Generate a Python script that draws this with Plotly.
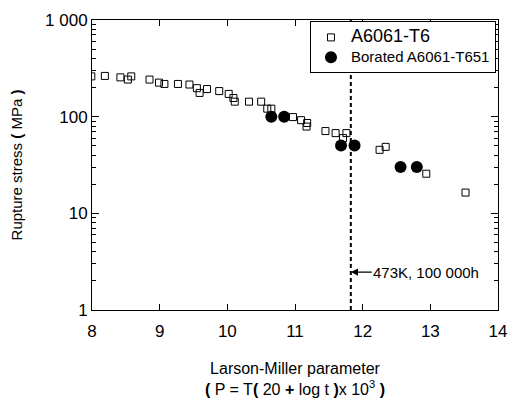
import math
import plotly.graph_objects as go

# A6061-T6 (open squares)
t6_P = [7.99, 8.19, 8.42, 8.53, 8.58, 8.85, 8.99, 9.07, 9.27, 9.44, 9.55, 9.59, 9.70, 9.88,
        10.02, 10.09, 10.11, 10.32, 10.50, 10.59, 10.65, 10.97, 11.09, 11.18, 11.17,
        11.45, 11.60, 11.71, 11.76, 12.25, 12.34, 12.94, 13.52]
t6_S = [261, 264, 255, 242, 261, 242, 225, 218, 218, 215, 197, 176, 193, 184,
        172, 156, 143, 143, 143, 121, 121, 99, 92, 86, 79,
        71, 67.6, 60, 67.6, 45.4, 48.7, 25.7, 16.4]

# Borated A6061-T651 (filled circles)
bor_P = [10.65, 10.84, 11.68, 11.88, 12.56, 12.80]
bor_S = [100, 100, 50.3, 50.3, 30.2, 30.2]

ref_P = 11.825
ref_label = "473K, 100 000h"
ref_S_label = 2.47

x_ticks = [8, 9, 10, 11, 12, 13, 14]
y_major = [1, 10, 100, 1000]
y_major_text = ["1", "10", "100", "1 000"]
y_minor = [m * 10 ** k for k in range(3) for m in range(2, 10)]

fig = go.Figure()
fig.add_trace(go.Scatter(x=[ref_P, ref_P], y=[1, 1000], mode="lines",
                         line=dict(color="black", width=2, dash="4px,3px"),
                         showlegend=False, hoverinfo="skip"))
fig.add_trace(go.Scatter(x=t6_P, y=t6_S, mode="markers",
                         name="<span style='font-size:18px'>A6061-T6</span>",
                         marker=dict(symbol="square-open", size=7, color="black",
                                     line=dict(width=1, color="black"))))
fig.add_trace(go.Scatter(x=bor_P, y=bor_S, mode="markers",
                         name="<span style='font-size:15px'>Borated A6061-T651</span>",
                         marker=dict(symbol="circle", size=12, color="black")))
# invisible trace to activate the overlaying y axis carrying the longer decade ticks
fig.add_trace(go.Scatter(x=[8], y=[1], yaxis="y2", mode="markers", marker=dict(opacity=0),
                         showlegend=False, hoverinfo="skip"))

fig.add_annotation(x=ref_P, y=math.log10(ref_S_label), xref="x", yref="y",
                   ax=21, ay=0, text=ref_label, showarrow=True, xanchor="left",
                   arrowhead=2, arrowsize=1.2, arrowwidth=1.2, arrowcolor="black",
                   standoff=0, borderpad=0,
                   font=dict(size=15, family="Liberation Sans", color="black"))

fig.update_xaxes(range=[8, 14], tickvals=x_ticks,
                 ticks="inside", ticklen=6, tickwidth=1, tickcolor="black",
                 showline=True, linecolor="black", linewidth=1, mirror="ticks",
                 showgrid=False, zeroline=False, ticklabelstandoff=6,
                 tickfont=dict(size=17, family="Liberation Sans", color="black"),
                 title=dict(text="Larson-Miller parameter<br><b>(</b> P = T<b>(</b> 20 <b>+</b> log t <b>)</b>x 10<sup>3</sup> <b>)</b>",
                            font=dict(size=16, family="Liberation Sans", color="black"), standoff=22))

fig.update_layout(
    yaxis=dict(type="log", range=[0, 3],
               tickvals=y_major + y_minor,
               ticktext=y_major_text + [""] * len(y_minor),
               ticks="inside", ticklen=4, tickwidth=1, tickcolor="black",
               showline=True, linecolor="black", linewidth=1, mirror="ticks",
               showgrid=False, zeroline=False,
               tickfont=dict(size=17, family="Liberation Sans", color="black"),
               title=dict(text="Rupture stress <b>(</b> MPa <b>)</b>",
                          font=dict(size=15, family="Liberation Sans", color="black"), standoff=18)),
    yaxis2=dict(type="log", range=[0, 3], overlaying="y", side="left",
                tickvals=y_major, ticktext=[""] * len(y_major),
                ticks="inside", ticklen=7, tickwidth=1, tickcolor="black",
                showline=False, mirror="ticks", showgrid=False, zeroline=False),
)

fig.update_layout(width=518, height=410, margin=dict(l=92, r=11, t=15, b=100),
                  plot_bgcolor="white", paper_bgcolor="white",
                  legend=dict(x=0.995, y=0.995, xanchor="right", yanchor="top",
                              bgcolor="white", bordercolor="black", borderwidth=1,
                              font=dict(size=13, family="Liberation Sans", color="black"),
                              tracegroupgap=0, itemwidth=30))
fig.write_html("out.html")
